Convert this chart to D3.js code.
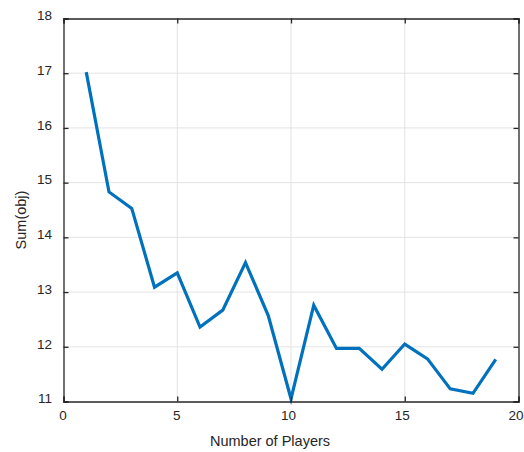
<!DOCTYPE html>
<html>
<head>
<meta charset="utf-8">
<script src="https://cdn.jsdelivr.net/npm/d3@7"></script>
<style>
  html, body { margin: 0; padding: 0; background: #fff; }
  svg { display: block; font-family: "Liberation Sans", Arial, Helvetica, sans-serif; }
</style>
</head>
<body>
<svg id="chart" width="524" height="452"></svg>
<script>
// Number of players vs. summed objective
const players = [1, 2, 3, 4, 5, 6, 7, 8, 9, 10, 11, 12, 13, 14, 15, 16, 17, 18, 19];
const sumObj = [17.02, 14.83, 14.53, 13.09, 13.35, 12.36, 12.67, 13.54, 12.57, 11.05,
                12.76, 11.97, 11.97, 11.59, 12.05, 11.78, 11.23, 11.15, 11.77];
const xTicks = [0, 5, 10, 15, 20];
const yTicks = [11, 12, 13, 14, 15, 16, 17, 18];

const svg = d3.select("#chart");
const m = { left: 63.5, right: 518.5, top: 18.5, bottom: 401.5 };

const x = d3.scaleLinear().domain([0, 20]).range([m.left, m.right]);
const y = d3.scaleLinear().domain([11, 18]).range([m.bottom, m.top]);

const axisColor = "#262626";
const gridColor = "#e3e3e3";

// grid
const grid = svg.append("g");
grid.selectAll(".gx").data(xTicks.slice(1, -1)).join("line")
  .attr("x1", d => x(d)).attr("x2", d => x(d))
  .attr("y1", m.top).attr("y2", m.bottom)
  .attr("stroke", gridColor).attr("stroke-width", 1);
grid.selectAll(".gy").data(yTicks.slice(1, -1)).join("line")
  .attr("y1", d => y(d)).attr("y2", d => y(d))
  .attr("x1", m.left).attr("x2", m.right)
  .attr("stroke", gridColor).attr("stroke-width", 1);

// data line
const line = d3.line().x((d, i) => x(players[i])).y(d => y(d));
svg.append("path").datum(sumObj)
  .attr("d", line)
  .attr("fill", "none")
  .attr("stroke", "#0072BD")
  .attr("stroke-width", 3.2)
  .attr("stroke-linejoin", "miter");

// axes with inward ticks
const tickLen = 5;
const axBottom = svg.append("g").attr("transform", `translate(0,${m.bottom})`)
  .call(d3.axisBottom(x).tickValues(xTicks).tickSize(-tickLen).tickPadding(9).tickFormat(d3.format("d")));
const axTop = svg.append("g").attr("transform", `translate(0,${m.top})`)
  .call(d3.axisTop(x).tickValues(xTicks).tickSize(-tickLen).tickFormat(""));
const axLeft = svg.append("g").attr("transform", `translate(${m.left},0)`)
  .call(d3.axisLeft(y).tickValues(yTicks).tickSize(-tickLen).tickPadding(11.5).tickFormat(d3.format("d")));
const axRight = svg.append("g").attr("transform", `translate(${m.right},0)`)
  .call(d3.axisRight(y).tickValues(yTicks).tickSize(-tickLen).tickFormat(""));

[axBottom, axTop, axLeft, axRight].forEach(g => {
  g.select(".domain").attr("stroke", axisColor).attr("stroke-width", 1.3);
  g.selectAll(".tick line").attr("stroke", axisColor).attr("stroke-width", 1.3);
  g.selectAll(".tick text").attr("fill", axisColor).attr("font-size", 13.5)
    .attr("font-family", "'Liberation Sans', Arial, sans-serif");
});
// nudge tick labels the way the renderer lays them out
axBottom.selectAll(".tick text").attr("dx", d => d < 10 ? -1 : -3);
axLeft.selectAll(".tick text").attr("transform", "translate(0,-3)");

// axis labels
svg.append("text")
  .attr("x", 270).attr("y", 446)
  .attr("text-anchor", "middle").attr("fill", axisColor).attr("font-size", 14.5)
  .text("Number of Players");
svg.append("text")
  .attr("transform", "translate(26,220) rotate(-90)")
  .attr("text-anchor", "middle").attr("fill", axisColor).attr("font-size", 14.5)
  .text("Sum(obj)");
</script>
</body>
</html>
